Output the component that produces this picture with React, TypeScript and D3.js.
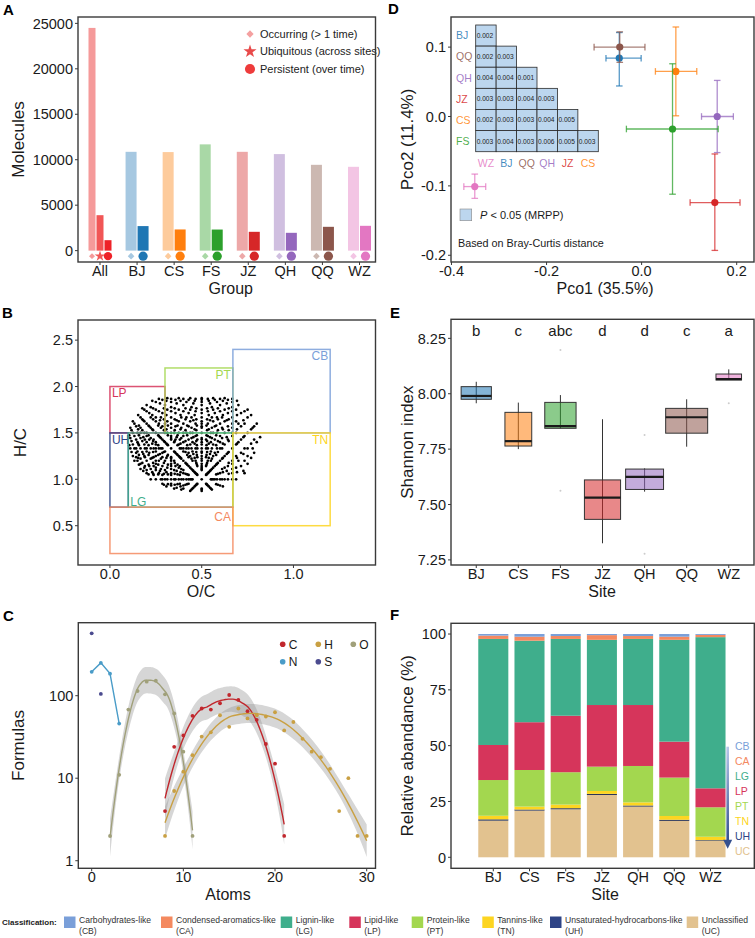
import React from "react";
import * as d3 from "d3";

const FONT = "'Liberation Sans', Arial, Helvetica, sans-serif";
const INK = "#1a1a1a";
const FRAME = "#3a3a3a";

// ---------- A: molecule counts per group ----------
const groups = ["All", "BJ", "CS", "FS", "JZ", "QH", "QQ", "WZ"];
const occurringCounts = [24500, 10870, 10840, 11690, 10870, 10620, 9440, 9220];
const ubiquitousCount = 3900;
const persistentCounts = [1150, 2700, 2330, 2320, 2070, 1960, 2620, 2730];
const groupLight = ["#f59a9a", "#a6c8e1", "#fdcb9c", "#a9d8a6", "#eda8a8", "#d0bfe0", "#ccb8b1", "#f3c5e4"];
const groupDark = ["#ee2228", "#1f77b4", "#ff7f0e", "#2ca02c", "#d62728", "#9467bd", "#8c564b", "#e377c2"];
const ubiquitousColor = "#f15656";

// ---------- sites ----------
const sites = ["BJ", "CS", "FS", "JZ", "QH", "QQ", "WZ"];
const siteColor: Record<string, string> = {
  BJ: "#1f77b4",
  CS: "#ff7f0e",
  FS: "#2ca02c",
  JZ: "#d62728",
  QH: "#9467bd",
  QQ: "#8c564b",
  WZ: "#e377c2",
};

// ---------- D: PCoA centroids with error bars ----------
const pcoSites = ["BJ", "QQ", "CS", "QH", "FS", "JZ", "WZ"];
const pco1 = [-0.047, -0.046, 0.072, 0.159, 0.065, 0.154, -0.351];
const pco1Lo = [-0.075, -0.1, 0.029, 0.126, -0.032, 0.102, -0.374];
const pco1Hi = [-0.001, 0.007, 0.116, 0.193, 0.161, 0.207, -0.328];
const pco2 = [0.084, 0.1, 0.065, 0.0, -0.018, -0.124, -0.101];
const pco2Lo = [0.044, 0.078, 0.001, -0.052, -0.112, -0.193, -0.118];
const pco2Hi = [0.121, 0.122, 0.129, 0.052, 0.076, -0.054, -0.083];

// MRPP pairwise p-values (lower triangle)
const mrppRows = ["BJ", "QQ", "QH", "JZ", "CS", "FS"];
const mrppCols = ["WZ", "BJ", "QQ", "QH", "JZ", "CS"];
const mrppP = [
  [0.002],
  [0.002, 0.003],
  [0.004, 0.004, 0.001],
  [0.003, 0.003, 0.004, 0.003],
  [0.002, 0.003, 0.003, 0.004, 0.005],
  [0.003, 0.004, 0.003, 0.006, 0.005, 0.003],
];
const cellFill = "#bcd6ee";

// ---------- B: van Krevelen regions ----------
const classIds = ["CB", "CA", "LG", "LP", "PT", "TN", "UH", "UC"];
const classNames = [
  "Carbohydrates-like",
  "Condensed-aromatics-like",
  "Lignin-like",
  "Lipid-like",
  "Protein-like",
  "Tannins-like",
  "Unsaturated-hydrocarbons-like",
  "Unclassified",
];
const classColor: Record<string, string> = {
  CB: "#7a9fd9",
  CA: "#f4895f",
  LG: "#3fae8c",
  LP: "#d6355b",
  PT: "#a3d74f",
  TN: "#fdd521",
  UH: "#2e4486",
  UC: "#e2c28f",
};
const regionIds = ["LP", "PT", "CB", "UH", "LG", "TN", "CA"];
const regionOcMin = [0, 0.3, 0.67, 0, 0.1, 0.67, 0];
const regionOcMax = [0.3, 0.67, 1.2, 0.1, 0.67, 1.2, 0.67];
const regionHcMin = [1.5, 1.5, 1.5, 0.7, 0.7, 0.5, 0.2];
const regionHcMax = [2.0, 2.2, 2.4, 1.5, 1.5, 1.5, 0.7];
const regionLabelAt = ["tl", "tr", "tr", "tl", "bl", "tr", "tr"];

// formula space for the dots (atom counts as in panel C)
const carbonAtoms = [8, 9, 10, 11, 12, 13, 14, 15, 16, 17, 18, 19, 20, 21];
const hydrogenAtoms = [8, 10, 12, 14, 16, 18, 20, 22, 24, 26, 28, 30];
const oxygenAtoms = [2, 3, 4, 5, 6, 7, 8, 9, 10, 11];

// ---------- C: formulas per atom count ----------
const atomsC = [8, 9, 10, 11, 12, 13, 14, 15, 16, 17, 18, 19, 20, 21];
const formulasC = [4, 24, 33, 57, 70, 68, 81, 102, 89, 65, 51, 26, 15, 2];
const atomsH = [8, 9, 10, 11, 12, 13, 14, 15, 16, 17, 18, 19, 20, 21, 22, 23, 24, 25, 26, 27, 28, 29, 30];
const formulasH = [2, 7, 12, 19, 32, 36, 58, 42, 70, 53, 58, 56, 63, 38, 48, 30, 21, 18, 13, 4, 10, 2, 2];
const atomsO = [2, 3, 4, 5, 6, 7, 8, 9, 10, 11];
const formulasO = [2, 11, 68, 114, 148, 152, 104, 61, 21, 2];
const atomsN = [0, 1, 2, 3];
const formulasN = [195, 250, 185, 46];
const atomsS = [0, 1];
const formulasS = [570, 105];
const elementColor: Record<string, string> = {
  C: "#c1272d",
  H: "#c9a043",
  O: "#a0a07a",
  N: "#4a9cc8",
  S: "#4b4b8f",
};

// ---------- E: Shannon index ----------
const shannonLower = [7.957, 7.75, 7.844, 7.325, 7.558, 7.761, 8.062];
const shannonQ1 = [7.975, 7.764, 7.844, 7.433, 7.568, 7.822, 8.062];
const shannonMedian = [7.99, 7.786, 7.854, 7.531, 7.625, 7.894, 8.066];
const shannonQ3 = [8.032, 7.916, 7.961, 7.611, 7.66, 7.934, 8.089];
const shannonUpper = [8.054, 7.96, 7.994, 7.885, 7.663, 7.975, 8.11];
const shannonOutliers = [[], [], [8.197, 7.562], [], [7.814, 7.278], [], [7.957]];
const sampleSizes = [14, 11, 15, 20, 22, 27, 10];
const groupLetters = ["b", "c", "abc", "d", "d", "c", "a"];

// ---------- F: relative abundance (%) ----------
const stackOrder = ["UC", "UH", "TN", "PT", "LP", "LG", "CA", "CB"];
const abundUC = [16.4, 20.9, 21.5, 27.9, 22.7, 16.3, 7.4];
const abundUH = [0.6, 0.5, 0.5, 0.5, 0.5, 0.5, 0.3];
const abundTN = [1.6, 1.3, 1.6, 1.3, 1.4, 1.7, 1.5];
const abundPT = [16.0, 16.4, 14.5, 10.9, 16.3, 17.2, 13.2];
const abundLP = [15.7, 21.4, 25.3, 27.6, 27.3, 16.1, 8.5];
const abundLG = [47.5, 36.5, 34.4, 29.2, 29.6, 45.6, 67.7];
const abundCA = [1.5, 1.8, 1.3, 2.1, 1.3, 1.4, 1.0];
const abundCB = [0.7, 1.2, 0.9, 0.5, 0.9, 1.2, 0.4];

// ---------- helpers ----------
const TICK_SIZE = 14.5;
const TITLE_SIZE = 16;
const TITLE_GAP = 31.5;

function Frame({ L, T, R, B }: any) {
  return <rect x={L} y={T} width={R - L} height={B - T} fill="none" stroke={FRAME} strokeWidth={1.4} />;
}

function YAxis({ x, scale, ticks, fmt = String, size = TICK_SIZE }: any) {
  return (
    <g>
      {ticks.map((t: number) => {
        const y = scale(t);
        return (
          <g key={t}>
            <line x1={x - 3} x2={x} y1={y} y2={y} stroke={FRAME} />
            <text x={x - 5} y={y} dy="0.36em" textAnchor="end" fontSize={size} fill={INK}>
              {fmt(t)}
            </text>
          </g>
        );
      })}
    </g>
  );
}

function XAxis({ y, scale, ticks, fmt = String, size = TICK_SIZE }: any) {
  const off = scale.bandwidth ? scale.bandwidth() / 2 : 0;
  return (
    <g>
      {ticks.map((t: any) => {
        const x = scale(t) + off;
        return (
          <g key={t}>
            <line x1={x} x2={x} y1={y} y2={y + 3} stroke={FRAME} />
            <text x={x} y={y + 13.8} textAnchor="middle" fontSize={size} fill={INK}>
              {fmt(t)}
            </text>
          </g>
        );
      })}
    </g>
  );
}

function YTitle({ x, y, text }: any) {
  return (
    <text transform={`translate(${x},${y}) rotate(-90)`} textAnchor="middle" dy="0.36em" fontSize={17} fill={INK}>
      {text}
    </text>
  );
}

function XTitle({ x, y, text }: any) {
  return (
    <text x={x} y={y} textAnchor="middle" fontSize={TITLE_SIZE} fill={INK}>
      {text}
    </text>
  );
}

function Letter({ x, y, text }: any) {
  return (
    <text x={x} y={y} fontSize={15} fontWeight="bold" fill="#000">
      {text}
    </text>
  );
}

function Marker({ kind, x, y, color, k = 1 }: any) {
  if (kind === "circle") return <circle cx={x} cy={y} r={4.6 * k} fill={color} />;
  const d =
    kind === "star"
      ? d3.symbol().type(d3.symbolStar).size(44 * k * k)()
      : d3.symbol().type(d3.symbolSquare).size(22 * k * k)();
  return (
    <path d={d || ""} transform={`translate(${x},${y})${kind === "diamond" ? " rotate(45)" : ""}`} fill={color} />
  );
}

// local quadratic regression (loess) with a pointwise 95% band
function loessRow(xs: number[], x0: number, span: number) {
  const n = xs.length;
  const q = Math.max(3, Math.floor(n * span));
  const dist = xs.map((x) => Math.abs(x - x0));
  const sorted = [...dist].sort((a, b) => a - b);
  const h = q < n ? (sorted[q - 1] + sorted[q]) / 2 : sorted[n - 1] * 1.001;
  const w = dist.map((d) => {
    const u = d / h;
    return u < 1 ? Math.pow(1 - u * u * u, 3) : 0;
  });
  const S = [
    [0, 0, 0],
    [0, 0, 0],
    [0, 0, 0],
  ];
  xs.forEach((x, j) => {
    const t = x - x0;
    const v = [1, t, t * t];
    for (let a = 0; a < 3; a++) for (let b = 0; b < 3; b++) S[a][b] += w[j] * v[a] * v[b];
  });
  const [a, b, c] = S[0];
  const [d, e, f] = S[1];
  const [g, hh, i] = S[2];
  const c11 = e * i - f * hh;
  const c21 = -(b * i - c * hh);
  const c31 = b * f - c * e;
  const det = a * c11 + b * -(d * i - f * g) + c * (d * hh - e * g);
  const r = [c11 / det, c21 / det, c31 / det];
  return xs.map((x, j) => {
    const t = x - x0;
    return w[j] * (r[0] + r[1] * t + r[2] * t * t);
  });
}

function tQuantile975(df: number) {
  const z = 1.959964;
  return z + (z ** 3 + z) / (4 * df) + (5 * z ** 5 + 16 * z ** 3 + 3 * z) / (96 * df * df);
}

function loessFit(xs: number[], ys: number[], span = 0.75, nOut = 80) {
  const n = xs.length;
  const L = xs.map((x) => loessRow(xs, x, span));
  const fitted = L.map((l) => d3.sum(l, (v, j) => v * ys[j]));
  const rss = d3.sum(ys, (y, i) => (y - fitted[i]) ** 2);
  const trL = d3.sum(L, (l, i) => l[i]);
  const trLL = d3.sum(L, (l) => d3.sum(l, (v) => v * v));
  const delta1 = n - 2 * trL + trLL;
  const sigma = Math.sqrt(rss / delta1);
  const tq = tQuantile975(Math.max(delta1, 1));
  const [x0, x1] = d3.extent(xs) as [number, number];
  return d3.range(nOut).map((k) => {
    const x = x0 + ((x1 - x0) * k) / (nOut - 1);
    const l = loessRow(xs, x, span);
    const fit = d3.sum(l, (v, j) => v * ys[j]);
    const se = sigma * Math.sqrt(d3.sum(l, (v) => v * v));
    return { x, fit, lo: fit - tq * se, hi: fit + tq * se };
  });
}

// ---------- panels ----------
function PanelA() {
  const L = 78, T = 17, R = 375.5, B = 262;
  const y = d3.scaleLinear().domain([-1250, 25700]).range([B, T]);
  const x = d3.scalePoint<string>().domain(groups).range([100, 359.5]);
  const span = 24;
  const base = y(0);
  const markY = base + 5.5;
  const legend = [
    { kind: "diamond", color: "#f4a0a0", label: "Occurring (> 1 time)" },
    { kind: "star", color: "#e84a4a", label: "Ubiquitous (across sites)" },
    { kind: "circle", color: "#ee3b3b", label: "Persistent (over time)" },
  ];
  return (
    <g>
      {groups.map((g, i) => {
        const series =
          i === 0
            ? [
                { v: occurringCounts[i], c: groupLight[i], m: "diamond" },
                { v: ubiquitousCount, c: ubiquitousColor, m: "star" },
                { v: persistentCounts[i], c: groupDark[i], m: "circle" },
              ]
            : [
                { v: occurringCounts[i], c: groupLight[i], m: "diamond" },
                { v: persistentCounts[i], c: groupDark[i], m: "circle" },
              ];
        const w = span / series.length;
        const x0 = (x(g) as number) - span / 2;
        return (
          <g key={g}>
            {series.map((s, k) => (
              <g key={k}>
                <rect x={x0 + w * k + 0.5} width={w - 1} y={y(s.v)} height={base - y(s.v)} fill={s.c} />
                <Marker kind={s.m} x={x0 + w * (k + 0.5)} y={markY} color={s.c} k={i === 0 ? 0.9 : 1} />
              </g>
            ))}
          </g>
        );
      })}
      {legend.map((d, i) => (
        <g key={d.label}>
          <Marker kind={d.kind} x={250} y={34 + i * 17.5} color={d.color} k={1.1} />
          <text x={260} y={34 + i * 17.5} dy="0.36em" fontSize={11} fill="#222">
            {d.label}
          </text>
        </g>
      ))}
      <Frame L={L} T={T} R={R} B={B} />
      <YAxis x={L} scale={y} ticks={[0, 5000, 10000, 15000, 20000, 25000]} />
      <XAxis y={B} scale={x} ticks={groups} />
      <YTitle x={18} y={(T + B) / 2} text="Molecules" />
      <XTitle x={(L + R) / 2 + 4} y={B + TITLE_GAP} text="Group" />
      <Letter x={3} y={15} text="A" />
    </g>
  );
}

function PanelB() {
  const L = 78, T = 320, R = 375.5, B = 565;
  const x = d3.scaleLinear().domain([-0.174, 1.447]).range([L, R]);
  const y = d3.scaleLinear().domain([0.0765, 2.717]).range([B, T]);
  const seen = new Map<string, { oc: number; hc: number }>();
  carbonAtoms.forEach((c) =>
    hydrogenAtoms.forEach((h) =>
      oxygenAtoms.forEach((o) => {
        const oc = o / c;
        const hc = h / c;
        if (((oc - 0.46) / 0.36) ** 2 + ((hc - 1.42) / 0.56) ** 2 > 1) return;
        const key = oc.toFixed(4) + "_" + hc.toFixed(4);
        if (!seen.has(key)) seen.set(key, { oc, hc });
      })
    )
  );
  const dots = Array.from(seen.values());
  return (
    <g>
      {dots.map((p, i) => (
        <circle key={i} cx={x(p.oc)} cy={y(p.hc)} r={1.35} fill="#000" />
      ))}
      {regionIds.map((id, i) => {
        const x0 = x(regionOcMin[i]);
        const x1 = x(regionOcMax[i]);
        const y0 = y(regionHcMax[i]);
        const y1 = y(regionHcMin[i]);
        const at = regionLabelAt[i];
        const lx = at === "tr" ? x1 - 2 : x0 + 2;
        const ly = at === "bl" ? y1 - 5 : id === "CA" ? y0 + 10 : y0 + 6.5;
        return (
          <g key={id}>
            <rect x={x0} y={y0} width={x1 - x0} height={y1 - y0} fill="none" stroke={classColor[id]} strokeWidth={1.5} opacity={0.85} />
            <text x={lx} y={ly} dy="0.36em" textAnchor={at === "tr" ? "end" : "start"} fontSize={12} fill={classColor[id]}>
              {id}
            </text>
          </g>
        );
      })}
      <Frame L={L} T={T} R={R} B={B} />
      <YAxis x={L} scale={y} ticks={[0.5, 1, 1.5, 2, 2.5]} fmt={(t: number) => t.toFixed(1)} />
      <XAxis y={B} scale={x} ticks={[0, 0.5, 1]} fmt={(t: number) => t.toFixed(1)} />
      <YTitle x={20} y={(T + B) / 2} text="H/C" />
      <XTitle x={201} y={B + TITLE_GAP} text="O/C" />
      <Letter x={2} y={318} text="B" />
    </g>
  );
}

function PanelC() {
  const L = 78.3, T = 622.7, R = 375.5, B = 868.3;
  const x = d3.scaleLinear().domain([-1.46, 30.96]).range([L, R]);
  const y = d3.scaleLog().domain([Math.pow(10, -0.092), Math.pow(10, 2.885)]).range([B, T]);
  const smoothed = [
    { id: "O", xs: atomsO, ys: formulasO },
    { id: "C", xs: atomsC, ys: formulasC },
    { id: "H", xs: atomsH, ys: formulasH },
  ].map((s) => ({ ...s, fit: loessFit(s.xs, s.ys.map((v) => Math.log10(v))) }));
  const band = d3
    .area<any>()
    .x((d) => x(d.x))
    .y0((d) => y(Math.pow(10, d.lo)))
    .y1((d) => y(Math.pow(10, d.hi)));
  const line = d3
    .line<any>()
    .x((d) => x(d.x))
    .y((d) => y(Math.pow(10, d.fit)));
  const nLine = d3
    .line<number>()
    .x((d, i) => x(atomsN[i]))
    .y((d) => y(d));
  const legend = [
    { id: "C", lx: 282.7, ly: 644.3 },
    { id: "H", lx: 318.3, ly: 644.3 },
    { id: "O", lx: 353.3, ly: 644.3 },
    { id: "N", lx: 282.7, ly: 661.7 },
    { id: "S", lx: 318.3, ly: 661.7 },
  ];
  return (
    <g>
      <defs>
        <clipPath id="clipC">
          <rect x={L} y={T} width={R - L} height={B - T} />
        </clipPath>
      </defs>
      <g clipPath="url(#clipC)">
        {smoothed.map((s) => (
          <path key={"b" + s.id} d={band(s.fit) || ""} fill="#999" fillOpacity={0.4} />
        ))}
        {smoothed.map((s) => (
          <path key={"l" + s.id} d={line(s.fit) || ""} fill="none" stroke={elementColor[s.id]} strokeWidth={1.4} />
        ))}
        <path d={nLine(formulasN) || ""} fill="none" stroke={elementColor.N} strokeWidth={1.4} />
        {smoothed.map((s) =>
          s.xs.map((a, i) => <circle key={s.id + a} cx={x(a)} cy={y(s.ys[i])} r={1.9} fill={elementColor[s.id]} />)
        )}
        {atomsN.map((a, i) => (
          <circle key={"N" + a} cx={x(a)} cy={y(formulasN[i])} r={1.9} fill={elementColor.N} />
        ))}
        {atomsS.map((a, i) => (
          <circle key={"S" + a} cx={x(a)} cy={y(formulasS[i])} r={1.9} fill={elementColor.S} />
        ))}
      </g>
      {legend.map((d) => (
        <g key={d.id}>
          <circle cx={d.lx} cy={d.ly} r={2.8} fill={elementColor[d.id]} />
          <text x={d.lx + 6} y={d.ly} dy="0.36em" fontSize={12} fill={INK}>
            {d.id}
          </text>
        </g>
      ))}
      <Frame L={L} T={T} R={R} B={B} />
      <YAxis x={L} scale={y} ticks={[1, 10, 100]} />
      <XAxis y={B} scale={x} ticks={[0, 10, 20, 30]} />
      <YTitle x={18} y={(T + B) / 2} text="Formulas" />
      <XTitle x={228} y={B + TITLE_GAP} text="Atoms" />
      <Letter x={3} y={621} text="C" />
    </g>
  );
}

function PanelD() {
  const L = 451, T = 17, R = 754, B = 262;
  const x = d3.scaleLinear().domain([-0.401, 0.2364]).range([L, R]);
  const y = d3.scaleLinear().domain([-0.2097, 0.1434]).range([B, T]);
  const col = d3.scaleBand<string>().domain(mrppCols).range([475.7, 598.3]);
  const row = d3.scaleBand<string>().domain(mrppRows).range([25, 151.7]);
  const cap = 3.3;
  return (
    <g>
      {mrppP.map((vals, r) =>
        vals.map((p, c) => {
          const cx = col(mrppCols[c]) as number;
          const ry = row(mrppRows[r]) as number;
          return (
            <g key={r + "_" + c}>
              <rect x={cx} y={ry} width={col.bandwidth()} height={row.bandwidth()} fill={cellFill} stroke="#2a2a2a" strokeWidth={0.8} />
              <text x={cx + 1} y={ry + row.bandwidth() / 2} dy="0.36em" fontSize={6.6} fill="#222">
                {p.toFixed(3)}
              </text>
            </g>
          );
        })
      )}
      {mrppRows.map((s) => (
        <text key={"r" + s} x={456} y={(row(s) as number) + row.bandwidth() / 2} dy="0.36em" fontSize={10.5} fill={siteColor[s]} fillOpacity={0.85}>
          {s}
        </text>
      ))}
      {mrppCols.map((s) => (
        <text key={"c" + s} x={(col(s) as number) + col.bandwidth() / 2} y={163} dy="0.36em" textAnchor="middle" fontSize={10.5} fill={siteColor[s]} fillOpacity={0.85}>
          {s}
        </text>
      ))}
      <rect x={460} y={209} width={11.7} height={11.7} fill={cellFill} stroke="#888" strokeWidth={0.6} />
      <text x={480} y={215} dy="0.36em" fontSize={11} fill={INK}>
        <tspan fontStyle="italic">P</tspan> {"< 0.05 (MRPP)"}
      </text>
      <text x={458} y={243} dy="0.36em" fontSize={10.8} fill={INK}>
        Based on Bray-Curtis distance
      </text>
      {pcoSites.map((s, i) => {
        const c = siteColor[s];
        const px = x(pco1[i]);
        const py = y(pco2[i]);
        return (
          <g key={s} stroke={c} strokeOpacity={0.75} strokeWidth={1.3}>
            <line x1={x(pco1Lo[i])} x2={x(pco1Hi[i])} y1={py} y2={py} />
            <line x1={x(pco1Lo[i])} x2={x(pco1Lo[i])} y1={py - cap} y2={py + cap} />
            <line x1={x(pco1Hi[i])} x2={x(pco1Hi[i])} y1={py - cap} y2={py + cap} />
            <line x1={px} x2={px} y1={y(pco2Lo[i])} y2={y(pco2Hi[i])} />
            <line x1={px - cap} x2={px + cap} y1={y(pco2Lo[i])} y2={y(pco2Lo[i])} />
            <line x1={px - cap} x2={px + cap} y1={y(pco2Hi[i])} y2={y(pco2Hi[i])} />
            <circle cx={px} cy={py} r={3.6} fill={c} stroke="none" />
          </g>
        );
      })}
      <Frame L={L} T={T} R={R} B={B} />
      <YAxis x={L} scale={y} ticks={[-0.2, -0.1, 0, 0.1]} fmt={(t: number) => t.toFixed(1)} />
      <XAxis y={B} scale={x} ticks={[-0.4, -0.2, 0, 0.2]} fmt={(t: number) => t.toFixed(1)} />
      <YTitle x={407} y={(T + B) / 2} text="Pco2 (11.4%)" />
      <XTitle x={605} y={B + TITLE_GAP} text="Pco1 (35.5%)" />
      <Letter x={388} y={14} text="D" />
    </g>
  );
}

function PanelE() {
  const L = 451, T = 319.3, R = 754, B = 565;
  const y = d3.scaleLinear().domain([7.227, 8.336]).range([B, T]);
  const x = d3.scalePoint<string>().domain(sites).range([L, R]).padding(0.6);
  const maxN = d3.max(sampleSizes) as number;
  const maxW = 42;
  return (
    <g>
      {sites.map((s, i) => {
        const cx = x(s) as number;
        const w = maxW * Math.sqrt(sampleSizes[i] / maxN);
        return (
          <g key={s}>
            <line x1={cx} x2={cx} y1={y(shannonUpper[i])} y2={y(shannonLower[i])} stroke="#333" strokeWidth={1} />
            <rect
              x={cx - w / 2}
              width={w}
              y={y(shannonQ3[i])}
              height={y(shannonQ1[i]) - y(shannonQ3[i])}
              fill={siteColor[s]}
              fillOpacity={0.55}
              stroke="#333"
              strokeWidth={1}
            />
            <line x1={cx - w / 2} x2={cx + w / 2} y1={y(shannonMedian[i])} y2={y(shannonMedian[i])} stroke="#1a1a1a" strokeWidth={2.2} />
            {shannonOutliers[i].map((v) => (
              <circle key={v} cx={cx} cy={y(v)} r={1} fill="#ccc" />
            ))}
            <text x={cx} y={y(8.285)} dy="0.36em" textAnchor="middle" fontSize={15} fill={INK}>
              {groupLetters[i]}
            </text>
          </g>
        );
      })}
      <Frame L={L} T={T} R={R} B={B} />
      <YAxis x={L} scale={y} ticks={[7.25, 7.5, 7.75, 8.0, 8.25]} fmt={(t: number) => t.toFixed(2)} />
      <XAxis y={B} scale={x} ticks={sites} />
      <YTitle x={407} y={(T + B) / 2} text="Shannon index" />
      <XTitle x={602} y={B + TITLE_GAP} text="Site" />
      <Letter x={390} y={318} text="E" />
    </g>
  );
}

function PanelF() {
  const L = 451, T = 623.3, R = 754.3, B = 868.3;
  const y = d3.scaleLinear().domain([-4.93, 104.8]).range([B, T]);
  const x = d3.scaleBand<string>().domain(sites).range([475.2, 728.6]).paddingInner(0.17).paddingOuter(0.085);
  const cols: Record<string, number[]> = {
    UC: abundUC,
    UH: abundUH,
    TN: abundTN,
    PT: abundPT,
    LP: abundLP,
    LG: abundLG,
    CA: abundCA,
    CB: abundCB,
  };
  const table = sites.map((s, i) => {
    const row: any = { site: s };
    stackOrder.forEach((k) => (row[k] = cols[k][i]));
    return row;
  });
  const layers = d3.stack<any>().keys(stackOrder)(table);
  const legendTop = 746.7;
  return (
    <g>
      <defs>
        <linearGradient id="arrowGrad" x1="0" y1="0" x2="0" y2="1">
          <stop offset="0" stopColor="#b6c7ea" />
          <stop offset="1" stopColor="#34508f" />
        </linearGradient>
      </defs>
      {layers.map((layer) =>
        layer.map((d, i) => (
          <rect
            key={layer.key + i}
            x={x(sites[i])}
            width={x.bandwidth()}
            y={y(d[1])}
            height={y(d[0]) - y(d[1])}
            fill={layer.key === "UH" ? "#2b3557" : classColor[layer.key]}
          />
        ))
      )}
      <rect x={726.4} y={legendTop} width={2.6} height={94} fill="url(#arrowGrad)" />
      <path d={`M723.2,${legendTop + 93} L732.2,${legendTop + 93} L727.7,${legendTop + 102} Z`} fill="#34508f" />
      {classIds.map((id, i) => (
        <text key={id} x={735} y={legendTop + i * 15} dy="0.36em" fontSize={10.5} fill={classColor[id]}>
          {id}
        </text>
      ))}
      <Frame L={L} T={T} R={R} B={B} />
      <YAxis x={L} scale={y} ticks={[0, 25, 50, 75, 100]} />
      <XAxis y={B} scale={x} ticks={sites} />
      <YTitle x={407} y={(T + B) / 2} text="Relative abandance (%)" />
      <XTitle x={605} y={B + TITLE_GAP} text="Site" />
      <Letter x={390} y={620} text="F" />
    </g>
  );
}

function ClassLegend() {
  const swatchX = [64, 161, 280.7, 349.3, 411.7, 482.3, 550, 686.7];
  return (
    <g>
      <text x={2} y={921.7} dy="0.36em" fontSize={8} fontWeight="bold" fill="#222">
        Classification:
      </text>
      {classIds.map((id, i) => (
        <g key={id}>
          <rect x={swatchX[i]} y={916.5} width={11.5} height={11.5} fill={classColor[id]} />
          <text x={swatchX[i] + 15} y={920} dy="0.36em" fontSize={8.6} fill="#333">
            {classNames[i]}
          </text>
          <text x={swatchX[i] + 15} y={931} dy="0.36em" fontSize={8.6} fill="#333">
            ({id})
          </text>
        </g>
      ))}
    </g>
  );
}

export default function App() {
  return (
    <svg
      width={755}
      height={938}
      fontFamily={FONT}
      style={{ position: "absolute", left: 0, top: 0, background: "#fff", display: "block" }}
    >
      <rect width={755} height={938} fill="#fff" />
      <PanelA />
      <PanelB />
      <PanelC />
      <PanelD />
      <PanelE />
      <PanelF />
      <ClassLegend />
    </svg>
  );
}
